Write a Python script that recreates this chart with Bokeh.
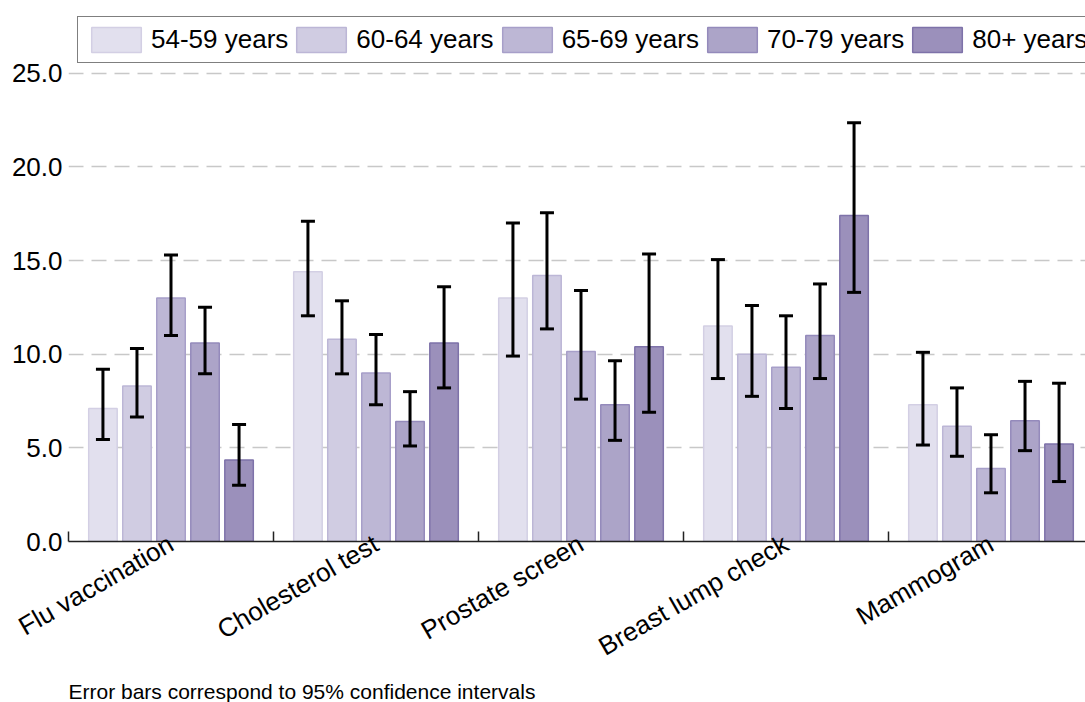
import math
import numpy as np
from bokeh.plotting import figure
from bokeh.models import (ColumnDataSource, Whisker, TeeHead, FixedTicker, Range1d,
                          NumeralTickFormatter, Title)
from bokeh.embed import file_html
from bokeh.resources import INLINE

categories = ["Flu vaccination", "Cholesterol test", "Prostate screen",
              "Breast lump check", "Mammogram"]
groups = ["54-59 years", "60-64 years", "65-69 years", "70-79 years", "80+ years"]

v_54_59 = [7.1, 14.4, 13.0, 11.5, 7.3]
v_60_64 = [8.3, 10.8, 14.2, 10.0, 6.15]
v_65_69 = [13.0, 9.0, 10.15, 9.3, 3.9]
v_70_79 = [10.6, 6.4, 7.3, 11.0, 6.45]
v_80p = [4.35, 10.6, 10.4, 17.4, 5.2]

lo_54_59 = [5.45, 12.05, 9.9, 8.7, 5.15]
hi_54_59 = [9.2, 17.1, 17.0, 15.05, 10.1]
lo_60_64 = [6.65, 8.95, 11.35, 7.75, 4.55]
hi_60_64 = [10.3, 12.85, 17.55, 12.6, 8.2]
lo_65_69 = [11.0, 7.3, 7.6, 7.1, 2.6]
hi_65_69 = [15.3, 11.05, 13.4, 12.05, 5.7]
lo_70_79 = [8.95, 5.1, 5.4, 8.7, 4.85]
hi_70_79 = [12.5, 8.0, 9.65, 13.75, 8.55]
lo_80p = [3.0, 8.2, 6.9, 13.3, 3.2]
hi_80p = [6.25, 13.6, 15.35, 22.35, 8.45]

y_ticks = [0, 5, 10, 15, 20, 25]
footnote = "Error bars correspond to 95% confidence intervals"

fills = ["#e2e0ee", "#d0cce2", "#bdb7d5", "#aca4c8", "#9b90bb"]
lines = ["#d3cfe4", "#bcb6d6", "#a79fc9", "#948abb", "#7e72a9"]

values = [v_54_59, v_60_64, v_65_69, v_70_79, v_80p]
lows = [lo_54_59, lo_60_64, lo_65_69, lo_70_79, lo_80p]
highs = [hi_54_59, hi_60_64, hi_65_69, hi_70_79, hi_80p]

FONT = "Liberation Sans"
step = 0.166
bar_w = 0.139

# frame spans the full top (legend lives inside the frame area above 25)
p = figure(width=1085, height=702, output_backend="svg", toolbar_location=None,
           x_range=Range1d(-0.5, 4.461), y_range=Range1d(0, 28.883),
           min_border_left=68, min_border_right=0, min_border_top=0,
           min_border_bottom=159)
p.outline_line_color = None
p.background_fill_color = "white"
p.border_fill_color = "white"

idx = np.arange(len(categories))
for j, g in enumerate(groups):
    xs = idx + (j - 2) * step
    src = ColumnDataSource(dict(x=xs, top=values[j], lower=lows[j], upper=highs[j]))
    p.vbar(x="x", top="top", bottom=0, width=bar_w, source=src,
           fill_color=fills[j], line_color=lines[j], line_width=1.5,
           legend_label=g)
    w = Whisker(base="x", lower="lower", upper="upper", source=src,
                line_color="black", line_width=3, level="overlay",
                upper_head=TeeHead(size=14, line_color="black", line_width=3),
                lower_head=TeeHead(size=14, line_color="black", line_width=3))
    p.add_layout(w)

# x axis
xa = p.xaxis[0]
xa.ticker = FixedTicker(ticks=list(idx.astype(float)),
                        minor_ticks=[i - 0.5 for i in range(len(categories) + 1)])
xa.major_label_overrides = {int(i): c for i, c in enumerate(categories)}
xa.major_tick_in = 0
xa.major_tick_out = 0
xa.minor_tick_in = 10
xa.minor_tick_out = 0
xa.minor_tick_line_color = "#222222"
xa.minor_tick_line_width = 1.5
xa.axis_line_color = "#222222"
xa.axis_line_width = 1.5
xa.major_label_orientation = math.pi / 6
xa.major_label_text_font = FONT
xa.major_label_text_font_size = "26px"
xa.major_label_text_color = "black"
xa.major_label_standoff = 0

ya = p.yaxis[0]
ya.ticker = FixedTicker(ticks=y_ticks)
ya.formatter = NumeralTickFormatter(format="0.0")
ya.axis_line_color = None
ya.major_tick_line_color = None
ya.minor_tick_line_color = None
ya.major_tick_in = 0
ya.major_tick_out = 0
ya.minor_tick_in = 0
ya.minor_tick_out = 0
ya.major_label_text_font = FONT
ya.major_label_text_font_size = "26px"
ya.major_label_text_color = "black"
ya.major_label_standoff = 6

p.xgrid.grid_line_color = None
p.ygrid.grid_line_color = "#c8c8c8"
p.ygrid.grid_line_width = 1.5
p.ygrid.grid_line_dash = "15 8"

lg = p.legend[0]
lg.orientation = "horizontal"
lg.location = (9, 478)
lg.border_line_color = "black"
lg.border_line_width = 1.5
lg.background_fill_color = "white"
lg.background_fill_alpha = 1
lg.label_text_font = FONT
lg.label_text_font_size = "26px"
lg.label_text_color = "black"
lg.glyph_width = 62
lg.glyph_height = 31
lg.label_standoff = 4
lg.spacing = 2
lg.padding = 7
lg.margin = 0

note = Title(text=footnote, align="left", text_font=FONT, text_font_size="21px",
             text_font_style="normal", text_color="black", standoff=0)
p.add_layout(note, "below")

open("out.html", "w").write(file_html(p, INLINE))
